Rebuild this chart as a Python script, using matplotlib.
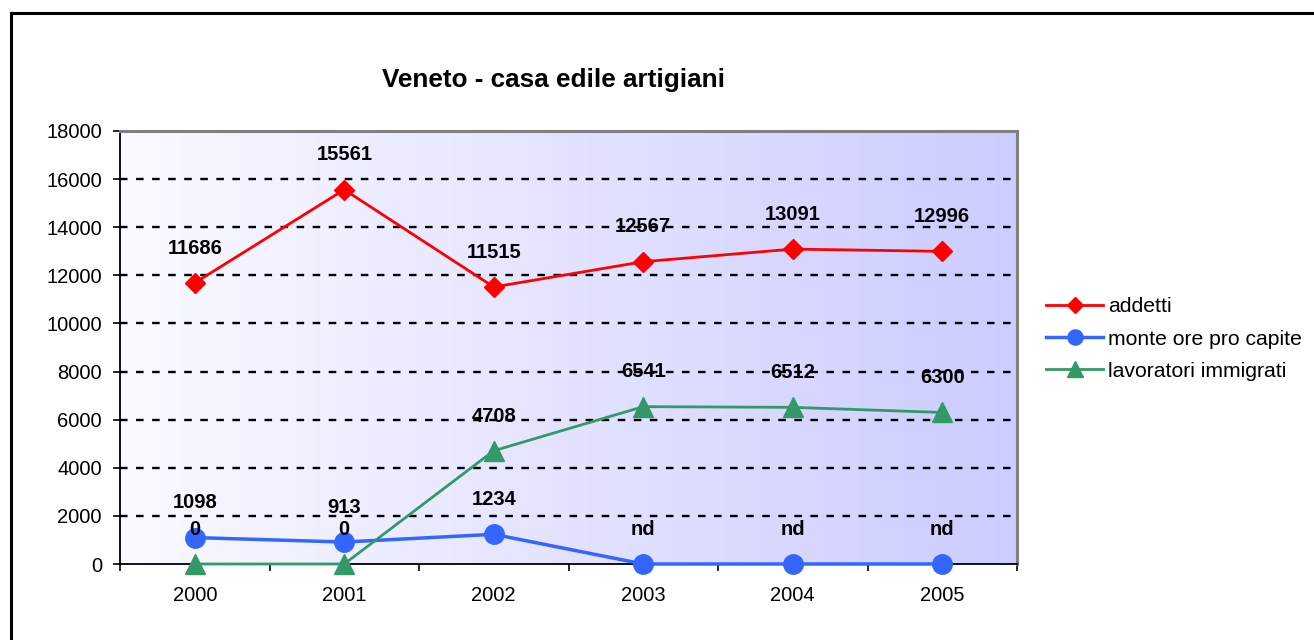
import matplotlib
matplotlib.use("Agg")
import matplotlib.pyplot as plt
import numpy as np
from matplotlib.lines import Line2D

plt.rcParams['font.family'] = ['Liberation Sans', 'DejaVu Sans']

years = ["2000", "2001", "2002", "2003", "2004", "2005"]
addetti = [11686, 15561, 11515, 12567, 13091, 12996]
monte_ore = [1098, 913, 1234, 0, 0, 0]
monte_ore_labels = ["1098", "913", "1234", "nd", "nd", "nd"]
immigrati = [0, 0, 4708, 6541, 6512, 6300]
immigrati_labels = ["0", "0", "4708", "6541", "6512", "6300"]
addetti_labels = [str(v) for v in addetti]
series_names = ["addetti", "monte ore pro capite", "lavoratori immigrati"]
title = "Veneto - casa edile artigiani"

W, H = 1314, 640
fig = plt.figure(figsize=(W / 100, H / 100), dpi=100)
fig.patch.set_facecolor("white")

ax = fig.add_axes([120 / W, 1 - 564 / H, (1017 - 120) / W, (564 - 131) / H])
ax.set_xlim(0, 6)
ax.set_ylim(0, 18000)

# gradient background
grad = np.linspace(0, 1, 256)
c0 = np.array([250, 250, 255]) / 255
c1 = np.array([204, 204, 255]) / 255
img = c0[None, :] + (c1 - c0)[None, :] * grad[:, None]
ax.imshow(img[None, :, :], extent=(0, 6, 0, 18000), aspect="auto", zorder=0, interpolation="bilinear")

# gridlines
for yv in range(2000, 18000, 2000):
    ax.axhline(yv, color="black", lw=1.7, linestyle=(0, (3.2, 3.6)), zorder=1)

x = np.arange(len(years)) + 0.5

ax.plot(x, addetti, color="#FF0000", lw=2, marker="D", markersize=10.5, label=series_names[0], zorder=3, clip_on=False)
ax.plot(x, monte_ore, color="#3366FF", lw=2.5, marker="o", markersize=14, label=series_names[1], zorder=3, clip_on=False)
ax.plot(x, immigrati, color="#339966", lw=2, marker="^", markersize=15, label=series_names[2], zorder=4, clip_on=False)

for xs, vals, labs in [(x, addetti, addetti_labels), (x, monte_ore, monte_ore_labels), (x, immigrati, immigrati_labels)]:
    for xi, v, lab in zip(xs, vals, labs):
        ax.annotate(lab, (xi, v), xytext=(0, 25), textcoords="offset points",
                    ha="center", va="center", fontsize=14.5, fontweight="bold", zorder=6)

# spines
for s in ["top", "right"]:
    ax.spines[s].set_color("#808080")
    ax.spines[s].set_linewidth(2.2)
for s in ["left", "bottom"]:
    ax.spines[s].set_color("black")
    ax.spines[s].set_linewidth(1.3)
    ax.spines[s].set_zorder(2.5)

ax.set_yticks(range(0, 18001, 2000))
ax.set_yticklabels([str(v) for v in range(0, 18001, 2000)])
ax.tick_params(axis="y", direction="out", length=5, width=1.2, pad=8, labelsize=14.5)

ax.set_xticks(x)
ax.set_xticklabels(years)
ax.set_xticks(np.arange(0, 7), minor=True)
ax.tick_params(axis="x", which="major", length=0, pad=16, labelsize=14.5)
ax.tick_params(axis="x", which="minor", direction="out", length=5, width=1.2)

fig.text(553 / W, 1 - 80 / H, title, ha="center", va="center", fontsize=18.8, fontweight="bold")

leg = fig.legend(loc="center left", bbox_to_anchor=(1046 / W, 1 - 339 / H), frameon=False,
                 fontsize=15.2, handlelength=2.7, handletextpad=0.25, labelspacing=0.62,
                 borderpad=0, borderaxespad=0, markerscale=0.78)

# outer border (top and left visible)
fig.add_artist(Line2D([11 / W, 11 / W], [1 - 13 / H, 0], transform=fig.transFigure, color="black", lw=2.2))
fig.add_artist(Line2D([11 / W, 1], [1 - 13 / H, 1 - 13 / H], transform=fig.transFigure, color="black", lw=2.2))

fig.savefig("out.png", dpi=100)
